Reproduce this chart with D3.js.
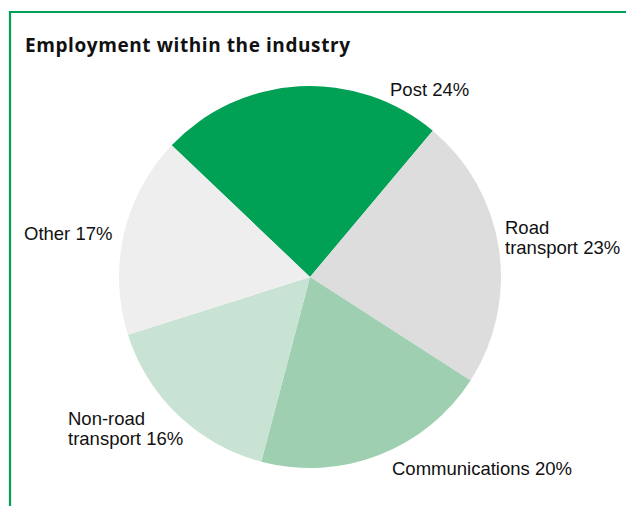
<!DOCTYPE html>
<html>
<head>
<meta charset="utf-8">
<script src="https://cdn.jsdelivr.net/npm/d3@7"></script>
<style>
  html, body { margin: 0; padding: 0; background: #fff; }
  svg { display: block; }
</style>
</head>
<body>
<svg id="chart" width="626" height="506"></svg>
<script>
// Employment shares by sector, clockwise from the Post slice
const categories = ["Post", "Road transport", "Communications", "Non-road transport", "Other"];
const shares = [24, 23, 20, 16, 17];
const labelLines = [["Post 24%"], ["Road", "transport 23%"], ["Communications 20%"], ["Non-road", "transport 16%"], ["Other 17%"]];
const colors = ["#00a055", "#dddddd", "#9ecfb1", "#c8e3d3", "#eeeeee"];

const svg = d3.select("#chart");
const W = 626, H = 506;

// Frame
svg.append("path")
  .attr("d", `M10,${H + 2} L10,12 L${W + 2},12`)
  .attr("fill", "none")
  .attr("stroke", "#00a055")
  .attr("stroke-width", 2.2);

svg.append("text")
  .attr("x", 25).attr("y", 52)
  .attr("font-family", "'Open Sans', 'Noto Sans', sans-serif")
  .attr("font-weight", "bold")
  .attr("font-size", 19)
  .attr("textLength", 325)
  .attr("lengthAdjust", "spacing")
  .attr("fill", "#111")
  .text("Employment within the industry");

const cx = 310, cy = 277, R = 191;
const startAngle = -46.4 * Math.PI / 180;

const pie = d3.pie().sort(null)
  .startAngle(startAngle)
  .endAngle(startAngle + 2 * Math.PI)
  .value(d => d);
const arcs = pie(shares);
const arc = d3.arc().innerRadius(0).outerRadius(R);

const g = svg.append("g").attr("transform", `translate(${cx},${cy})`);
g.selectAll("path.slice")
  .data(arcs)
  .join("path")
  .attr("class", "slice")
  .attr("d", arc)
  .attr("fill", (d, i) => colors[i]);

// Label anchor points (left x, first baseline)
const labelPos = [
  [390, 96], [505, 234], [392, 475], [68, 425], [24, 240]
];
const lg = svg.append("g")
  .attr("font-family", "'Liberation Sans', Arial, sans-serif")
  .attr("font-size", 18.5)
  .attr("fill", "#111");
lg.selectAll("text")
  .data(arcs)
  .join("text")
  .attr("x", (d, i) => labelPos[i][0])
  .attr("y", (d, i) => labelPos[i][1])
  .each(function (d, i) {
    const t = d3.select(this);
    labelLines[i].forEach((line, j) => {
      t.append("tspan")
        .attr("x", labelPos[i][0])
        .attr("dy", j === 0 ? 0 : 20)
        .text(line);
    });
  });
</script>
</body>
</html>
